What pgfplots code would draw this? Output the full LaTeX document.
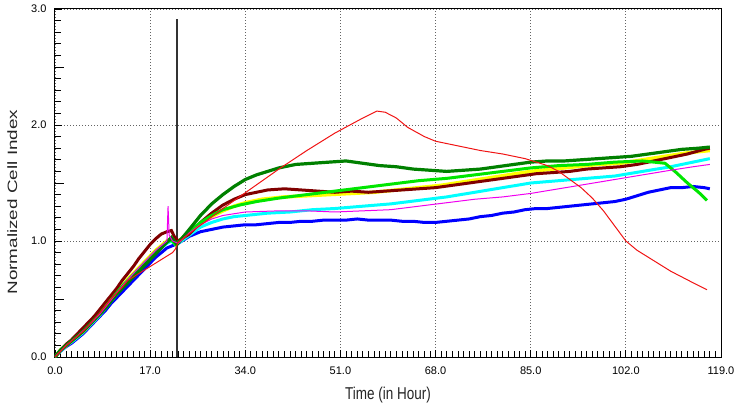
\documentclass[border=0pt]{standalone}
\usepackage{pgfplots}
\pgfplotsset{compat=1.18}
\usepackage{fontspec}
\setmainfont{Liberation Sans}
\usepackage{graphicx}

\definecolor{cdgreen}{RGB}{0,128,0}
\definecolor{cmaroon}{RGB}{128,0,0}
\definecolor{clime}{RGB}{0,230,0}
\definecolor{cyel}{RGB}{255,255,0}
\definecolor{ccyan}{RGB}{0,255,255}
\definecolor{cblue}{RGB}{0,0,255}
\definecolor{cmag}{RGB}{240,0,240}
\definecolor{cred}{RGB}{240,20,20}
\definecolor{gridc}{RGB}{100,100,100}

\begin{document}
\begin{tikzpicture}
\useasboundingbox (-55pt,-52pt) rectangle (680pt,357pt);
\begin{axis}[
    scale only axis,
    width=666pt, height=348pt,
    xmin=0, xmax=119, ymin=0, ymax=3,
    xtick={0,17,...,119}, ytick={0,1,2,3},
    minor xtick={0,1,...,119}, minor ytick={0,0.1,...,3},
    extra y ticks={0.5,1.5,2.5}, extra y tick labels={},
    extra y tick style={grid=none, tickwidth=9pt},
    tick align=inside, tick pos=left,
    tickwidth=7pt, subtickwidth=6pt,
    xtick style={black, line width=0.8pt},
    ytick style={black, line width=0.8pt},
    minor tick style={black, line width=0.8pt},
    grid=major,
    major grid style={gridc, line width=0.9pt, dash pattern=on 1pt off 2pt},
    axis line style={black, line width=1pt},
    /pgf/number format/.cd, fixed, fixed zerofill, precision=1, assume math mode=true,
    /pgfplots/.cd,
    tick label style={font=\fontsize{11}{13}\selectfont, black},
    xticklabel style={yshift=-6pt},
    yticklabel style={xshift=-5pt},
    xlabel={\scalebox{1}[1.27]{Time (in Hour)}},
    ylabel={\scalebox{1.4}[1]{Normalized Cell Index}},
    label style={font=\fontsize{13.5}{15}\selectfont, black!85},
    xlabel style={at={(axis description cs:0.5,-0.108)}, anchor=center},
    ylabel style={at={(axis description cs:-0.064,0.445)}, anchor=center, rotate=0},
]
% event marker
\addplot[black!80, line width=1.2pt] coordinates {(21.8,0) (21.8,2.91)};

% blue
\addplot[cblue, line width=3pt] coordinates {
(0,0) (1,0.05) (2,0.09) (3,0.12) (4,0.16) (5,0.2) (6,0.25) (7,0.3) (8,0.35) (9,0.4) (10,0.46)
(11,0.51) (12,0.56) (13,0.61) (14,0.66) (15,0.71) (16,0.76) (17,0.81) (18,0.86) (19,0.9) (20,0.94)
(21,0.96) (22,0.98) (24,1.04) (26,1.08) (28,1.1) (30,1.12) (32,1.13) (34,1.14) (36,1.14) (38,1.15)
(40,1.16) (42,1.16) (44,1.17) (46,1.17) (48,1.18) (50,1.18) (52,1.18) (54,1.19) (56,1.18) (58,1.18)
(60,1.18) (62,1.17) (64,1.17) (66,1.16) (68,1.16) (70,1.17) (72,1.18) (74,1.19) (76,1.21) (78,1.22)
(80,1.24) (82,1.25) (84,1.27) (86,1.28) (88,1.28) (90,1.29) (92,1.3) (94,1.31) (96,1.32) (98,1.33)
(100,1.34) (102,1.36) (104,1.39) (106,1.42) (108,1.44) (110,1.46) (112,1.46) (114,1.47) (116,1.46) (117,1.45)};

% cyan
\addplot[ccyan, line width=3pt] coordinates {
(0,0) (1,0.05) (2,0.1) (3,0.13) (4,0.17) (5,0.21) (6,0.26) (7,0.31) (8,0.36) (9,0.42) (10,0.48)
(11,0.54) (12,0.6) (13,0.65) (14,0.7) (15,0.75) (16,0.8) (17,0.85) (18,0.9) (19,0.94) (20,0.98)
(20.8,1.0) (21.5,0.97) (22,0.98) (24,1.05) (26,1.12) (28,1.16) (30,1.19) (32,1.21) (34,1.22) (38,1.24)
(42,1.25) (46,1.27) (50,1.28) (55,1.3) (60,1.32) (65,1.35) (70,1.38) (75,1.42) (80,1.46) (85,1.5)
(90,1.52) (95,1.54) (100,1.56) (105,1.6) (110,1.64) (114,1.68) (117,1.71)};

% yellow
\addplot[cyel, line width=3.5pt] coordinates {
(0,0) (1,0.06) (2,0.1) (3,0.14) (4,0.18) (5,0.22) (6,0.27) (7,0.32) (8,0.37) (9,0.43) (10,0.49)
(11,0.55) (12,0.61) (13,0.67) (14,0.72) (15,0.77) (16,0.82) (17,0.87) (18,0.92) (19,0.96) (20,1.0)
(20.8,1.02) (21.5,0.98) (22,0.99) (24,1.08) (26,1.15) (28,1.21) (30,1.26) (32,1.3) (34,1.33) (37,1.36)
(41,1.38) (45,1.39) (49,1.4) (53,1.41) (57,1.42) (61,1.44) (65,1.46) (69,1.48) (73,1.51) (77,1.54)
(81,1.57) (85,1.6) (89,1.62) (93,1.64) (97,1.66) (101,1.67) (105,1.7) (109,1.73) (113,1.76) (117,1.78)};

% maroon
\addplot[cmaroon, line width=3pt] coordinates {
(0,0) (1,0.06) (2,0.11) (3,0.15) (4,0.2) (5,0.25) (6,0.3) (7,0.35) (8,0.41) (9,0.47) (10,0.53)
(11,0.59) (12,0.66) (13,0.72) (14,0.78) (15,0.85) (16,0.91) (17,0.97) (18,1.02) (19,1.06) (20,1.08)
(20.8,1.09) (21.3,1.04) (22,1.0) (24,1.06) (26,1.16) (28,1.24) (30,1.31) (32,1.36) (34,1.4) (36,1.42)
(38,1.44) (41,1.45) (44,1.44) (47,1.43) (50,1.42) (53,1.43) (56,1.42) (59,1.43) (62,1.44) (65,1.45)
(68,1.46) (71,1.48) (74,1.5) (77,1.52) (80,1.54) (83,1.56) (86,1.58) (89,1.59) (92,1.6) (95,1.62)
(98,1.63) (101,1.64) (104,1.66) (107,1.69) (110,1.72) (113,1.75) (116,1.79) (117,1.8)};

% lime
\addplot[clime, line width=3pt] coordinates {
(0,0) (1,0.06) (2,0.1) (3,0.14) (4,0.18) (5,0.22) (6,0.27) (7,0.32) (8,0.37) (9,0.43) (10,0.49)
(11,0.55) (12,0.61) (13,0.66) (14,0.71) (15,0.76) (16,0.81) (17,0.86) (18,0.91) (19,0.95) (20,0.99)
(20.8,1.01) (21.5,0.97) (22,0.99) (24,1.08) (26,1.16) (28,1.22) (30,1.27) (33,1.31) (36,1.34) (40,1.37)
(45,1.4) (50,1.43) (55,1.46) (60,1.49) (65,1.52) (70,1.54) (75,1.57) (80,1.6) (85,1.63) (90,1.65)
(95,1.66) (100,1.68) (105,1.69) (109,1.67) (111,1.59) (113,1.5) (115,1.42) (116.5,1.35)};

% dark green
\addplot[cdgreen, line width=3.2pt] coordinates {
(0,0) (1,0.06) (2,0.1) (3,0.14) (4,0.18) (5,0.22) (6,0.27) (7,0.32) (8,0.37) (9,0.42) (10,0.48)
(11,0.54) (12,0.59) (13,0.64) (14,0.69) (15,0.74) (16,0.79) (17,0.84) (18,0.89) (19,0.94) (20,0.99)
(20.8,1.03) (21.3,1.0) (21.8,0.97) (22.3,1.0) (24,1.1) (26,1.22) (28,1.32) (30,1.4) (32,1.47) (34,1.53)
(36,1.57) (38,1.6) (40,1.63) (43,1.66) (46,1.67) (49,1.68) (52,1.69) (55,1.67) (58,1.65) (61,1.64)
(64,1.62) (67,1.61) (70,1.6) (73,1.61) (76,1.62) (79,1.64) (82,1.66) (85,1.68) (88,1.69) (91,1.69)
(94,1.7) (97,1.71) (100,1.72) (103,1.73) (106,1.75) (109,1.77) (112,1.79) (115,1.8) (117,1.81)};

% magenta
\addplot[cmag, line width=1pt] coordinates {
(0,0) (2,0.1) (4,0.18) (6,0.27) (8,0.37) (10,0.49) (12,0.61) (14,0.72) (16,0.82) (18,0.92) (19,0.96)
(20,1.0) (20.2,1.3) (20.4,1.05) (21,1.0) (22,0.98) (24,1.07) (26,1.14) (28,1.19) (30,1.22) (34,1.25)
(40,1.26) (45,1.26) (50,1.25) (55,1.26) (60,1.27) (65,1.3) (70,1.33) (75,1.36) (80,1.38) (85,1.41)
(90,1.45) (95,1.49) (100,1.53) (105,1.57) (110,1.61) (114,1.64) (117,1.66)};

% red
\addplot[cred, line width=1pt] coordinates {
(0,0) (2,0.1) (5,0.22) (8,0.38) (10,0.5) (12,0.6) (13,0.66) (14,0.69) (15,0.72) (17,0.78) (19,0.84)
(20,0.87) (21,0.9) (21.5,0.93) (22,0.99) (25,1.1) (30,1.28) (35,1.45) (40,1.62) (45,1.78) (50,1.93)
(55,2.06) (57.5,2.12) (59,2.11) (61,2.06) (63,1.98) (66,1.9) (68,1.86) (72,1.82) (76,1.78) (80,1.75)
(84,1.71) (88,1.65) (90,1.6) (92,1.53) (94,1.46) (96,1.37) (98,1.26) (100,1.13) (102,1.0) (104,0.92)
(106,0.86) (108,0.8) (110,0.74) (112,0.69) (114,0.64) (116.5,0.58)};
\end{axis}
\end{tikzpicture}
\end{document}
